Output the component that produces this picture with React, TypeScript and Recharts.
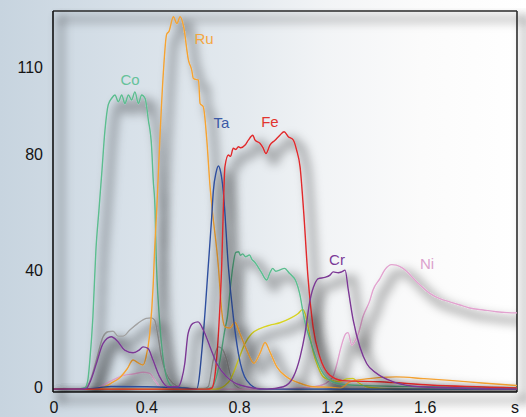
import React from 'react';
import { LineChart, Line, XAxis, YAxis, ReferenceLine, ReferenceDot } from 'recharts';

type P = [number, number];

const X_TICKS = [0, 0.4, 0.8, 1.2, 1.6, 2];
const X_TICK_LABELS = ['0', '0.4', '0.8', '1.2', '1.6', 's'];
const Y_TICKS = [0, 40, 80, 110];

const GRAY: P[] = [
  [0, 0], [0.12, 0], [0.144, 0.8], [0.165, 4], [0.187, 10], [0.216, 18], [0.237, 19.7], [0.259, 19.9], [0.28, 18.2],
  [0.302, 18.2], [0.331, 20.3], [0.366, 22.6], [0.402, 24.3], [0.424, 24.5], [0.438, 23.7], [0.453, 18],
  [0.467, 11.1], [0.488, 5.4], [0.517, 2], [0.553, 0.6], [0.6, 0.2], [0.65, 0.2], [0.669, 0.8], [0.691, 10],
  [0.713, 14.5], [0.727, 14], [0.749, 10], [0.763, 5.4], [0.784, 1.4], [0.82, 0], [2, 0],
];

const NI: P[] = [
  [0, 0], [0.16, 0], [0.187, 0.3], [0.23, 2], [0.273, 3.7], [0.309, 4.8], [0.345, 5.2], [0.388, 5.8], [0.417, 5.4],
  [0.438, 3.1], [0.46, 0.8], [0.487, 0], [0.9, 0], [1.05, 0.3], [1.121, 0.8], [1.16, 1.4], [1.19, 2.8],
  [1.208, 4.5], [1.225, 9], [1.24, 14], [1.262, 19], [1.272, 19.4], [1.288, 15.1], [1.3, 16.3], [1.316, 19],
  [1.336, 24.9], [1.366, 30.5], [1.379, 34], [1.409, 38], [1.43, 41], [1.46, 42.8], [1.48, 42.6], [1.509, 41.5],
  [1.566, 37], [1.624, 32.9], [1.67, 31], [1.71, 30], [1.754, 28.9], [1.796, 27.9], [1.855, 27.2],
  [1.911, 26.6], [1.96, 26.3], [2, 26.2],
];

const YELLOW: P[] = [
  [0, 0], [0.7, 0], [0.72, 0.3], [0.745, 1.5], [0.763, 3.1], [0.78, 6], [0.799, 10], [0.828, 15.7],
  [0.856, 19], [0.892, 20.8], [0.935, 22], [0.978, 22.8], [1.022, 24.3], [1.057, 26], [1.076, 27.4],
  [1.09, 25], [1.105, 19], [1.121, 13], [1.142, 7.7], [1.165, 4.2], [1.194, 3.1], [1.237, 2.6],
  [1.265, 3.5], [1.293, 3.7], [1.31, 2.6], [1.352, 0.8], [1.42, 0.2], [1.5, 0], [2, 0],
];

const CO: P[] = [
  [0, 0], [0.1, 0], [0.138, 0.5], [0.15, 3], [0.159, 10], [0.172, 24.8], [0.185, 47.8], [0.198, 61.5],
  [0.21, 74], [0.224, 89], [0.238, 97.7], [0.253, 100], [0.267, 101.1], [0.282, 98.8], [0.296, 101.1],
  [0.31, 98.2], [0.325, 101.1], [0.339, 99.4], [0.353, 102.2], [0.368, 98.2], [0.382, 101.1], [0.397, 99.9],
  [0.411, 92.5], [0.425, 83.3], [0.432, 71.9], [0.44, 61.5], [0.444, 47.8], [0.458, 25], [0.474, 11],
  [0.49, 4], [0.517, 0.7], [0.55, 0.2], [0.65, 0], [0.684, 0.5], [0.7, 3], [0.72, 10], [0.74, 20],
  [0.752, 25], [0.766, 36], [0.775, 42], [0.788, 47], [0.8, 47.2], [0.808, 46], [0.818, 46.5], [0.83, 45.5],
  [0.847, 46.1], [0.858, 44.5], [0.868, 43.8], [0.897, 40.3], [0.921, 37.5], [0.935, 40], [0.947, 41.5],
  [0.96, 40.5], [0.976, 40.9], [0.998, 41.5], [1.019, 39.8], [1.048, 36.9], [1.063, 32.9], [1.084, 23.7],
  [1.113, 15.7], [1.149, 7.7], [1.192, 3.1], [1.25, 1.6], [1.35, 1.2], [1.6, 0.8], [2, 0.5],
];

const RU: P[] = [
  [0, 0], [0.2, 0], [0.215, 0.5], [0.25, 2], [0.289, 4], [0.32, 7], [0.345, 10], [0.367, 9], [0.388, 8.3],
  [0.401, 11], [0.417, 19], [0.432, 36], [0.438, 47.8], [0.447, 61.5], [0.46, 85], [0.475, 108],
  [0.49, 122], [0.5, 123], [0.519, 128], [0.534, 125.7], [0.548, 128], [0.563, 124.6], [0.584, 113],
  [0.598, 109.7], [0.605, 106.8], [0.615, 106.5], [0.627, 106.3], [0.634, 98.2], [0.648, 97],
  [0.663, 85.6], [0.677, 69.6], [0.686, 62], [0.713, 42], [0.727, 27], [0.741, 21.4], [0.763, 21],
  [0.784, 23], [0.806, 19], [0.835, 13.4], [0.866, 8.9], [0.892, 12.3], [0.914, 16], [0.935, 12.8],
  [0.964, 7.7], [1.007, 4.2], [1.065, 2], [1.122, 0.8], [1.2, 0.6], [1.237, 0.3], [1.28, 2.5],
  [1.35, 3.5], [1.48, 4.2], [1.6, 3.6], [1.71, 3], [1.85, 2.1], [2, 1.2],
];

const TA: P[] = [
  [0, 0], [0.15, 0.1], [0.2, 0.5], [0.25, 0.9], [0.4, 0.8], [0.5, 0.6], [0.58, 0.3], [0.619, 0],
  [0.648, 19], [0.669, 42], [0.684, 59], [0.691, 68], [0.703, 74.5], [0.713, 76.7], [0.723, 74.5],
  [0.734, 68], [0.756, 42], [0.777, 25], [0.799, 12.3], [0.835, 3], [0.892, 0], [2, 0],
];

const FE: P[] = [
  [0, 0], [0.66, 0], [0.684, 0.3], [0.7, 6], [0.713, 19], [0.727, 42], [0.734, 61.5], [0.741, 76.4],
  [0.756, 80.5], [0.765, 80], [0.777, 82.8], [0.788, 82.4], [0.799, 83.3], [0.81, 83], [0.828, 83.9],
  [0.842, 85.6], [0.861, 87.3], [0.871, 85.6], [0.892, 84.5], [0.905, 83], [0.918, 81], [0.935, 83.9],
  [0.957, 85.6], [0.978, 87.3], [0.996, 88.5], [1.014, 86.8], [1.036, 85.6], [1.05, 82.2], [1.065, 76.4],
  [1.08, 61.5], [1.099, 38.6], [1.121, 21.4], [1.15, 11.1], [1.193, 4.8], [1.25, 2.9], [1.408, 2.5],
  [1.624, 1.4], [2, 0.4],
];

const CR: P[] = [
  [0, 0], [0.05, 0], [0.12, 0], [0.144, 0.3], [0.165, 3.5], [0.187, 8.8], [0.216, 15.7], [0.251, 18],
  [0.28, 16.3], [0.309, 13.4], [0.345, 12.5], [0.371, 13.4], [0.388, 14.5], [0.409, 14], [0.431, 10],
  [0.46, 4.2], [0.496, 0.8], [0.539, 0.8], [0.555, 3.5], [0.568, 8.8], [0.582, 19], [0.603, 22.6],
  [0.625, 23.1], [0.648, 20.3], [0.677, 14.5], [0.706, 8.8], [0.749, 4.2], [0.806, 1.4], [0.921, 0],
  [0.993, 0.8], [1.036, 4.2], [1.065, 11], [1.086, 19], [1.108, 30.6], [1.129, 36.3], [1.144, 38],
  [1.172, 38.4], [1.194, 39.2], [1.208, 40.3], [1.23, 40], [1.244, 40.3], [1.259, 40.9], [1.273, 34],
  [1.294, 23.7], [1.323, 14.5], [1.352, 8.8], [1.395, 5.4], [1.467, 2.5], [1.582, 0.8], [2, 0],
];

const SERIES = [
  { name: 'gray', color: '#a2a2a2', pts: GRAY },
  { name: 'Ni', color: '#e2a3cf', pts: NI },
  { name: 'yellow', color: '#d8d324', pts: YELLOW },
  { name: 'Co', color: '#5cbd8f', pts: CO },
  { name: 'Ru', color: '#f5a332', pts: RU },
  { name: 'Ta', color: '#2f4f9f', pts: TA },
  { name: 'Fe', color: '#e0292c', pts: FE },
  { name: 'Cr', color: '#7b3894', pts: CR },
];

const LABELS = [
  { text: 'Co', t: 0.332, v: 106.3, color: '#66c29a' },
  { text: 'Ru', t: 0.651, v: 120.4, color: '#f4a640' },
  { text: 'Ta', t: 0.726, v: 91.6, color: '#3c5aa6' },
  { text: 'Fe', t: 0.935, v: 91.8, color: '#e2342f' },
  { text: 'Cr', t: 1.224, v: 44.4, color: '#7a3a98' },
  { text: 'Ni', t: 1.612, v: 43, color: '#dba2cd' },
];

const FONT = '"Liberation Sans", Arial, Helvetica, sans-serif';

const YTick = (props: any) => {
  const { x, y, payload } = props;
  return (
    <text x={x} y={y} dy={-2} textAnchor="end" dominantBaseline="central" fontSize={16} fontFamily={FONT} fill="#141414">
      {payload.value}
    </text>
  );
};

const XTick = (props: any) => {
  const { x, y, payload } = props;
  const idx = X_TICKS.indexOf(payload.value);
  const label = idx >= 0 ? X_TICK_LABELS[idx] : String(payload.value);
  const dx = idx === X_TICKS.length - 1 ? -2 : 1;
  return (
    <text x={x + dx} y={y + 15} textAnchor="middle" dominantBaseline="central" fontSize={16} fontFamily={FONT} fill="#141414">
      {label}
    </text>
  );
};

export default function App() {
  return (
    <div
      style={{
        position: 'absolute',
        left: 0,
        top: 0,
        width: 526,
        height: 417,
        overflow: 'hidden',
        background: 'linear-gradient(to right, #c7d4df 0%, #d8e1e9 25%, #e3e9ee 45%, #f2f4f6 62%, #fbfbfb 80%, #ffffff 100%)',
      }}
    >
      <svg width={0} height={0} style={{ position: 'absolute' }}>
        <defs>
          <filter id="shd" filterUnits="userSpaceOnUse" x="0" y="0" width="526" height="417">
            <feMorphology in="SourceAlpha" operator="dilate" radius="2.5" result="d" />
            <feGaussianBlur in="d" stdDeviation="5" result="b" />
            <feOffset in="b" dx="8" dy="8" result="o" />
            <feFlood floodColor="#000" floodOpacity="0.27" />
            <feComposite in2="o" operator="in" result="s" />
            <feMerge>
              <feMergeNode in="s" />
              <feMergeNode in="SourceGraphic" />
            </feMerge>
          </filter>
        </defs>
      </svg>
      <style>{`.recharts-line-curve, .recharts-reference-dot text, .recharts-cartesian-axis-line, .recharts-reference-line-line { filter: url(#shd); }`}</style>
      <LineChart width={526} height={417} margin={{ top: 11, right: 9, bottom: 0, left: 0 }}>
        <XAxis
          dataKey="t"
          type="number"
          domain={[0, 2]}
          ticks={X_TICKS}
          allowDataOverflow
          height={25}
          tickSize={0}
          tickMargin={0}
          tick={<XTick />}
          axisLine={{ stroke: '#111', strokeWidth: 1.6 }}
          tickLine={false}
        />
        <YAxis
          type="number"
          domain={[-1, 130]}
          ticks={Y_TICKS}
          allowDataOverflow
          width={53}
          tickSize={0}
          tickMargin={10}
          tick={<YTick />}
          axisLine={{ stroke: '#111', strokeWidth: 1.6 }}
          tickLine={false}
        />
        <ReferenceLine y={130} stroke="#2a2a2a" strokeWidth={1.6} />
        <ReferenceLine x={2} stroke="#2a2a2a" strokeWidth={1.6} />
        {SERIES.map((s) => (
          <Line
            key={s.name}
            data={s.pts.map(([t, v]) => ({ t, v }))}
            dataKey="v"
            type="monotone"
            stroke={s.color}
            strokeWidth={1.4}
            dot={false}
            activeDot={false}
            isAnimationActive={false}
          />
        ))}
        {LABELS.map((l) => (
          <ReferenceDot
            key={l.text}
            x={l.t}
            y={l.v}
            r={0}
            stroke="none"
            fill="none"
            label={{ value: l.text, position: 'center', fill: l.color, fontSize: 15, fontFamily: FONT }}
          />
        ))}
      </LineChart>
    </div>
  );
}
